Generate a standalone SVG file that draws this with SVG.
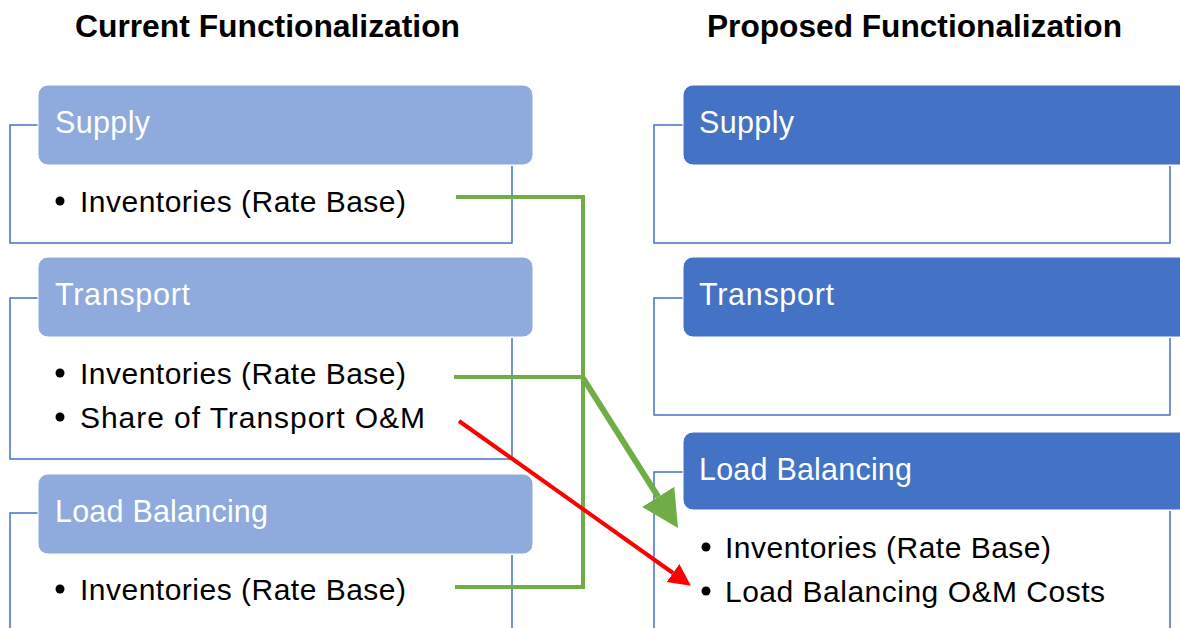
<svg xmlns="http://www.w3.org/2000/svg" width="1180" height="628" viewBox="0 0 1180 628">
  <style>
    .title { font-family: "Liberation Sans", Arial, sans-serif; font-weight: bold; font-size: 31px; fill: #000; }
    .hdrL { fill: #8FAADC; stroke: #FFFFFF; stroke-width: 1; }
    .hdrR { fill: #4472C4; stroke: #FFFFFF; stroke-width: 1; }
    .htxt { font-family: "Liberation Sans", Arial, sans-serif; font-size: 30.5px; fill: #FFFFFF; }
    .btxt { font-family: "Liberation Sans", Arial, sans-serif; font-size: 30px; fill: #000; }
    .brk { fill: none; stroke: #4472C4; stroke-width: 1.5; }
    .bul { fill: #000; }
    .g { fill: none; stroke: #70AD47; stroke-width: 4; }
    .gd { fill: none; stroke: #70AD47; stroke-width: 6; }
    .r { fill: none; stroke: #FF0000; stroke-width: 4; }
  </style>
  <defs>
    <marker id="ahG" markerUnits="userSpaceOnUse" markerWidth="42" markerHeight="42" viewBox="0 -21 42 42" refX="0" refY="0" orient="auto">
      <path d="M0,-19 L37,0 L0,19 z" fill="#70AD47"/>
    </marker>
    <marker id="ahR" markerUnits="userSpaceOnUse" markerWidth="26" markerHeight="26" viewBox="0 -13 26 26" refX="0" refY="0" orient="auto">
      <path d="M0,-11 L22,0 L0,11 z" fill="#FF0000"/>
    </marker>
  </defs>

  <text class="title" x="75" y="37" textLength="385" lengthAdjust="spacingAndGlyphs">Current Functionalization</text>
  <text class="title" x="707" y="37" textLength="415" lengthAdjust="spacingAndGlyphs">Proposed Functionalization</text>

  <!-- Left column -->
  <g id="cur-supply">
    <path class="brk" d="M38,125 H10 V243 H512 V166"/>
    <rect class="hdrL" x="38" y="85" width="495" height="80" rx="10"/>
    <text class="htxt" x="55" y="133" textLength="95" lengthAdjust="spacing">Supply</text>
    <circle class="bul" cx="60" cy="201" r="4.5"/>
    <text class="btxt" x="80" y="212" textLength="326" lengthAdjust="spacing">Inventories (Rate Base)</text>
  </g>
  <g id="cur-transport">
    <path class="brk" d="M38,298 H10 V459 H512 V338"/>
    <rect class="hdrL" x="38" y="257" width="495" height="80" rx="10"/>
    <text class="htxt" x="55" y="305" textLength="135" lengthAdjust="spacing">Transport</text>
    <circle class="bul" cx="60" cy="373" r="4.5"/>
    <text class="btxt" x="80" y="384" textLength="326" lengthAdjust="spacing">Inventories (Rate Base)</text>
    <circle class="bul" cx="60" cy="417" r="4.5"/>
    <text class="btxt" x="80" y="428" textLength="345" lengthAdjust="spacing">Share of Transport O&amp;M</text>
  </g>
  <g id="cur-loadbalancing">
    <path class="brk" d="M38,513 H10 V640 M512,555 V640"/>
    <rect class="hdrL" x="38" y="474" width="495" height="80" rx="10"/>
    <text class="htxt" x="55" y="522" textLength="213" lengthAdjust="spacing">Load Balancing</text>
    <circle class="bul" cx="60" cy="589" r="4.5"/>
    <text class="btxt" x="80" y="600" textLength="326" lengthAdjust="spacing">Inventories (Rate Base)</text>
  </g>

  <!-- Right column -->
  <g id="prop-supply">
    <path class="brk" d="M683,125 H654 V243 H1170 V166"/>
    <rect class="hdrR" x="683" y="85" width="520" height="80" rx="10"/>
    <text class="htxt" x="699" y="133" textLength="95" lengthAdjust="spacing">Supply</text>
  </g>
  <g id="prop-transport">
    <path class="brk" d="M683,298 H654 V415 H1170 V338"/>
    <rect class="hdrR" x="683" y="257" width="520" height="80" rx="10"/>
    <text class="htxt" x="699" y="305" textLength="135" lengthAdjust="spacing">Transport</text>
  </g>
  <g id="prop-loadbalancing">
    <path class="brk" d="M683,472 H654 V640 M1170,511 V640"/>
    <rect class="hdrR" x="683" y="432" width="520" height="78" rx="10"/>
    <text class="htxt" x="699" y="480" textLength="213" lengthAdjust="spacing">Load Balancing</text>
    <circle class="bul" cx="706" cy="547" r="4.5"/>
    <text class="btxt" x="725" y="558" textLength="326" lengthAdjust="spacing">Inventories (Rate Base)</text>
    <circle class="bul" cx="706" cy="591" r="4.5"/>
    <text class="btxt" x="725" y="602" textLength="380" lengthAdjust="spacing">Load Balancing O&amp;M Costs</text>
  </g>

  <!-- Connectors -->
  <g id="connectors">
    <path class="g" d="M456,197 H583 V587 H455"/>
    <path class="g" d="M454,377 H583"/>
    <path class="gd" d="M583,378 L658.2,496.8" marker-end="url(#ahG)"/>
    <path class="r" d="M459,421 L673,573" marker-end="url(#ahR)"/>
  </g>
</svg>
